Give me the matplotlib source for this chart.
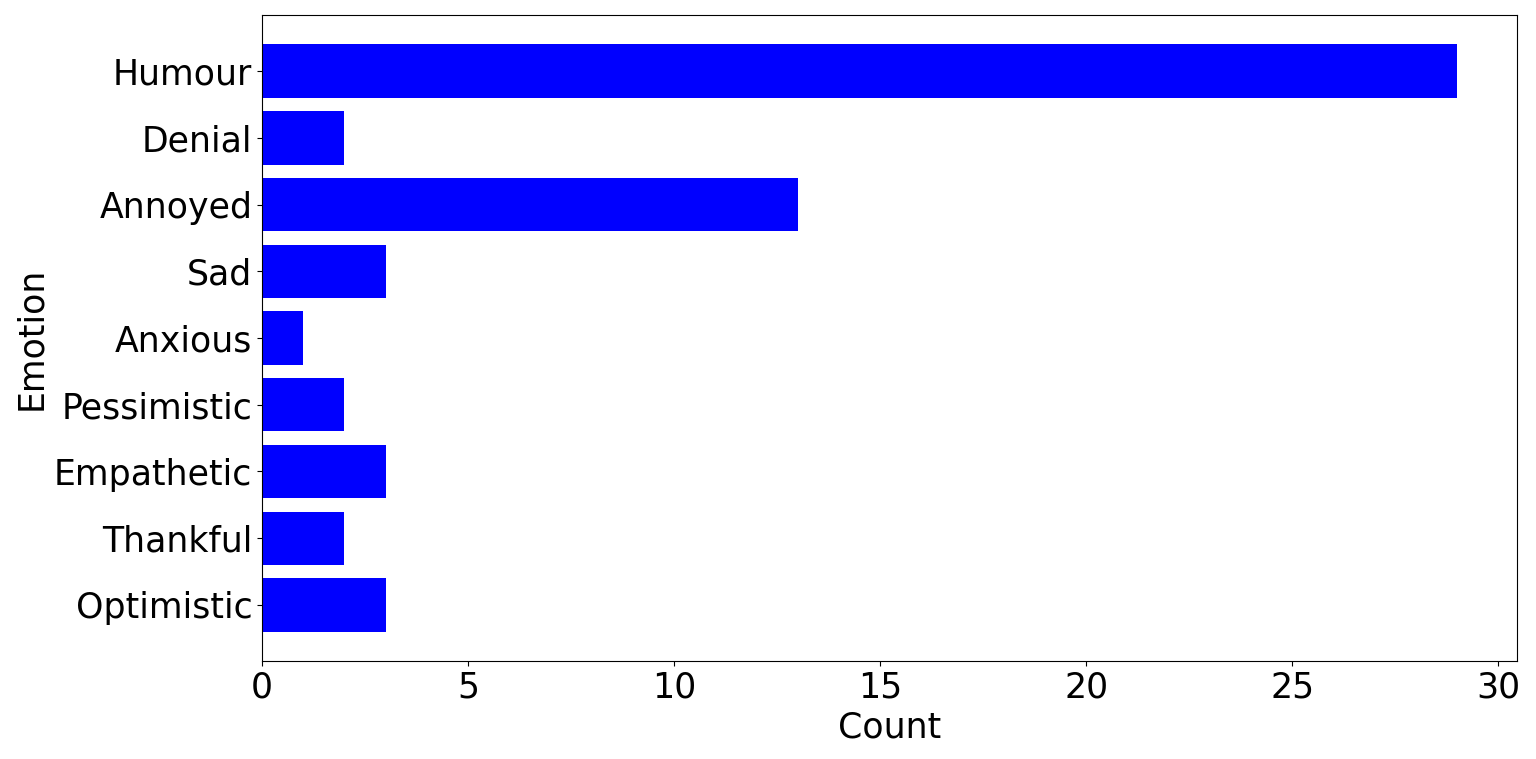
import matplotlib
matplotlib.use("Agg")
import matplotlib.pyplot as plt

emotions = ["Optimistic", "Thankful", "Empathetic", "Pessimistic", "Anxious",
            "Sad", "Annoyed", "Denial", "Humour"]
counts = [3, 2, 3, 2, 1, 3, 13, 2, 29]

plt.rcParams["font.size"] = 25

fig, ax = plt.subplots(figsize=(15.36, 7.59), dpi=100)
ax.barh(emotions, counts, color="blue")
ax.set_xlabel("Count")
ax.set_ylabel("Emotion")
ax.tick_params(labelsize=25)

fig.subplots_adjust(left=0.1706, right=0.9876, top=0.9802, bottom=0.1291)
fig.savefig("out.png")
